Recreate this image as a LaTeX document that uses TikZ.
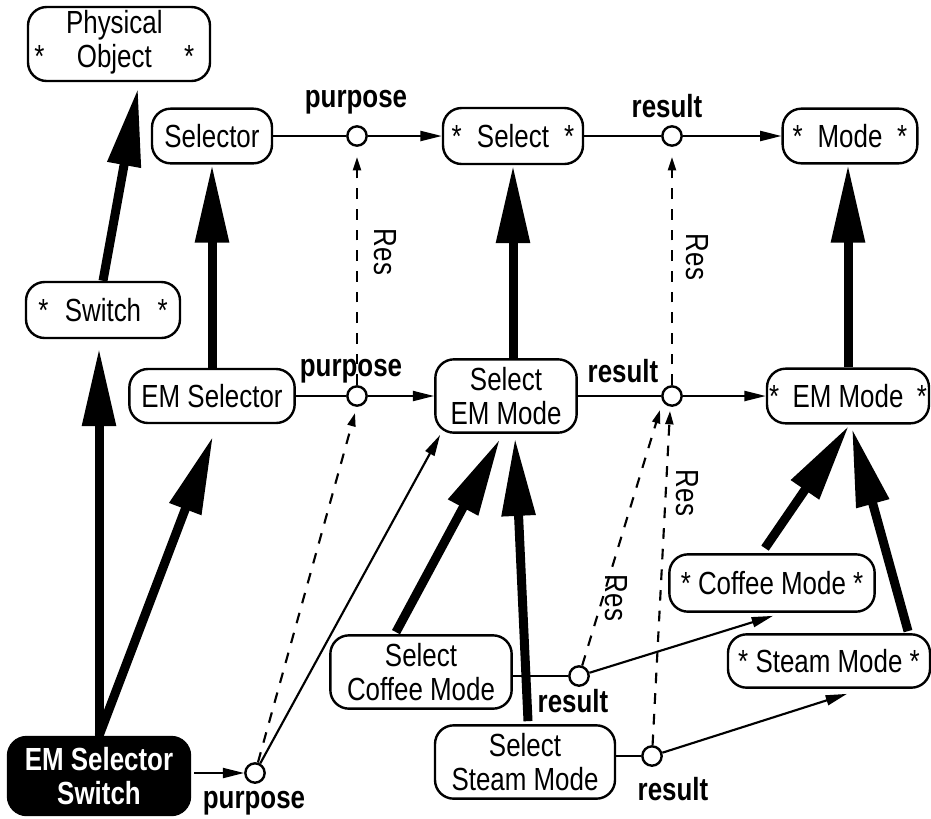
\documentclass[tikz,border=0pt]{standalone}
\usepackage{fontspec}
\setmainfont{Liberation Sans}[FakeStretch=0.81]
\usetikzlibrary{arrows.meta, calc, positioning}
\tikzset{
  concept/.style={draw, line width=1.8pt, rounded corners=14pt, inner sep=0pt, align=center},
  rel/.style={circle, draw, fill=white, line width=1.8pt, inner sep=0pt, minimum size=14.5pt},
  lbl/.style={font=\fontsize{24}{25.5}\selectfont\bfseries, inner sep=0pt, anchor=base},
  reslbl/.style={inner sep=0pt, rotate=-90},
  heavy/.style={line width=6.75pt, -{Triangle[length=58.5pt, width=24pt]}},
  link/.style={line width=1.6pt},
  linkarrow/.style={line width=1.6pt, -{Triangle[length=16pt, width=7.5pt]}},
  resarrow/.style={line width=1.6pt, dash pattern=on 8pt off 7.5pt, -{Triangle[length=10pt, width=6pt]}}
}
\newcommand{\starred}[2]{\makebox[#1]{*\hfill #2\hfill *}}

\begin{document}
\begin{tikzpicture}[x=0.75pt, y=-0.75pt, font=\fontsize{24}{25.5}\selectfont]
\useasboundingbox (0,0) rectangle (931,818);
%% top row
  \node[concept, minimum width=136.5pt, minimum height=55.5pt] (physobj) at (119,44)
    {\makebox[120pt]{*\hfill\begin{tabular}[b]{@{}c@{}}Physical\\Object\end{tabular}\hfill*}\hspace{7pt}};
  \node[concept, minimum width=90pt, minimum height=41pt] (selector) at (212,136) {Selector};
  \node[concept, minimum width=105pt, minimum height=42pt] (select) at (513,136) {\starred{92pt}{Select}};
  \node[concept, minimum width=101pt, minimum height=41pt] (mode) at (850,136) {\starred{86pt}{Mode}};
  \node[rel] (p1) at (357,136) {};
  \node[rel] (r1) at (672,136) {};
  \node[lbl] (p1lbl) at (356,107) {purpose};
  \node[lbl] (r1lbl) at (667,117) {result};
%% middle row
  \node[concept, minimum width=115.5pt, minimum height=42pt] (switch) at (103,310) {\starred{97pt}{Switch}};
  \node[concept, minimum width=124pt, minimum height=40.5pt] (emselector) at (212,396) {EM Selector};
  \node[concept, minimum width=106pt, minimum height=55pt] (selectem) at (506,396) {Select\\EM Mode};
  \node[concept, minimum width=121.5pt, minimum height=41pt] (emmode) at (848,396) {\starred{118.5pt}{EM Mode}};
  \node[rel] (p2) at (357,396) {};
  \node[rel] (r2) at (672,396) {};
  \node[lbl] (p2lbl) at (351,376) {purpose};
  \node[lbl] (r2lbl) at (623,382) {result};
%% bottom
  \node[concept, minimum width=154pt, minimum height=43pt] (coffee) at (772,583) {* Coffee Mode *};
  \node[concept, minimum width=151.5pt, minimum height=40pt] (steam) at (829,661) {* Steam Mode *};
  \node[concept, minimum width=136pt, minimum height=55pt] (selcoffee) at (421,672) {Select\\Coffee Mode};
  \node[concept, minimum width=135pt, minimum height=55pt] (selsteam) at (525,762) {Select\\Steam Mode};
  \node[concept, fill=black, text=white, font=\fontsize{24}{25.5}\selectfont\bfseries,
    minimum width=136.5pt, minimum height=58.5pt] (emswitch) at (99,776) {EM Selector\\Switch};
  \node[rel] (p3) at (255,773) {};
  \node[rel] (r3) at (579,676) {};
  \node[rel] (r4) at (652,756) {};
  \node[lbl] (p3lbl) at (254,808) {purpose};
  \node[lbl] (r3lbl) at (573,712) {result};
  \node[lbl] (r4lbl) at (673,800) {result};
%% Res labels
  \node[reslbl] (res1) at (385,252) {Res};
  \node[reslbl] (res2) at (697,257) {Res};
  \node[reslbl] (res3) at (687,493) {Res};
  \node[reslbl] (res4) at (616,598) {Res};
%% relation lines
  \draw[link] (selector.east |- p1) -- (p1);
  \draw[linkarrow] (p1) -- (select.west |- p1);
  \draw[link] (select.east |- r1) -- (r1);
  \draw[linkarrow] (r1) -- (mode.west |- r1);
  \draw[link] (emselector.east |- p2) -- (p2);
  \draw[linkarrow] (p2) -- (selectem.west |- p2);
  \draw[link] (selectem.east |- r2) -- (r2);
  \draw[linkarrow] (r2) -- (emmode.west |- r2);
  \draw[linkarrow] ($(emswitch.east |- p3)+(3,0)$) -- (p3);
  \draw[linkarrow] (p3) -- ($(selectem.south west)+(6,1)$);
  \draw[link] (selcoffee.east |- r3) -- (r3);
  \draw[linkarrow] (r3) -- ($(coffee.south)+(1,3)$);
  \draw[link] (selsteam.east |- r4) -- (r4);
  \draw[linkarrow] (r4) -- ($(steam.south)+(18,5)$);
%% Res links
  \draw[resarrow] (p2) -- ($(p1)+(0,21)$);
  \draw[resarrow] (r2) -- ($(r1)+(0,21)$);
  \draw[resarrow] (p3) -- ($(p2)+(-2,17)$);
  \draw[resarrow] (r3) -- ($(r2)+(-12,14)$);
  \draw[resarrow] (r4) -- ($(r2)+(-2,15)$);
%% subtype arrows
  \draw[heavy] (switch.north) -- ($(physobj.south)+(19,6)$);
  \draw[heavy] (emselector.north) -- (selector.south);
  \draw[heavy] (selectem.north -| select.south) -- (select.south);
  \draw[heavy] (emmode.north) -- (emmode.north |- mode.south);
  \draw[heavy] (emswitch.north) -- ($(emswitch.north |- switch.south)+(0,9)$);
  \draw[heavy] (emswitch.north) -- ($(emselector.south)+(1,12)$);
  \draw[heavy] ($(selcoffee.north)+(-25,-2)$) -- ($(selectem.south)+(-6,5)$);
  \draw[heavy] ($(selsteam.north)+(3,-3)$) -- ($(selectem.south)+(9,4)$);
  \draw[heavy] ($(coffee.north)+(-7,-5)$) -- ($(emmode.south)+(1,1)$);
  \draw[heavy] ($(steam.north)+(79,-2)$) -- ($(emmode.south)+(4,4)$);
\end{tikzpicture}
\end{document}
